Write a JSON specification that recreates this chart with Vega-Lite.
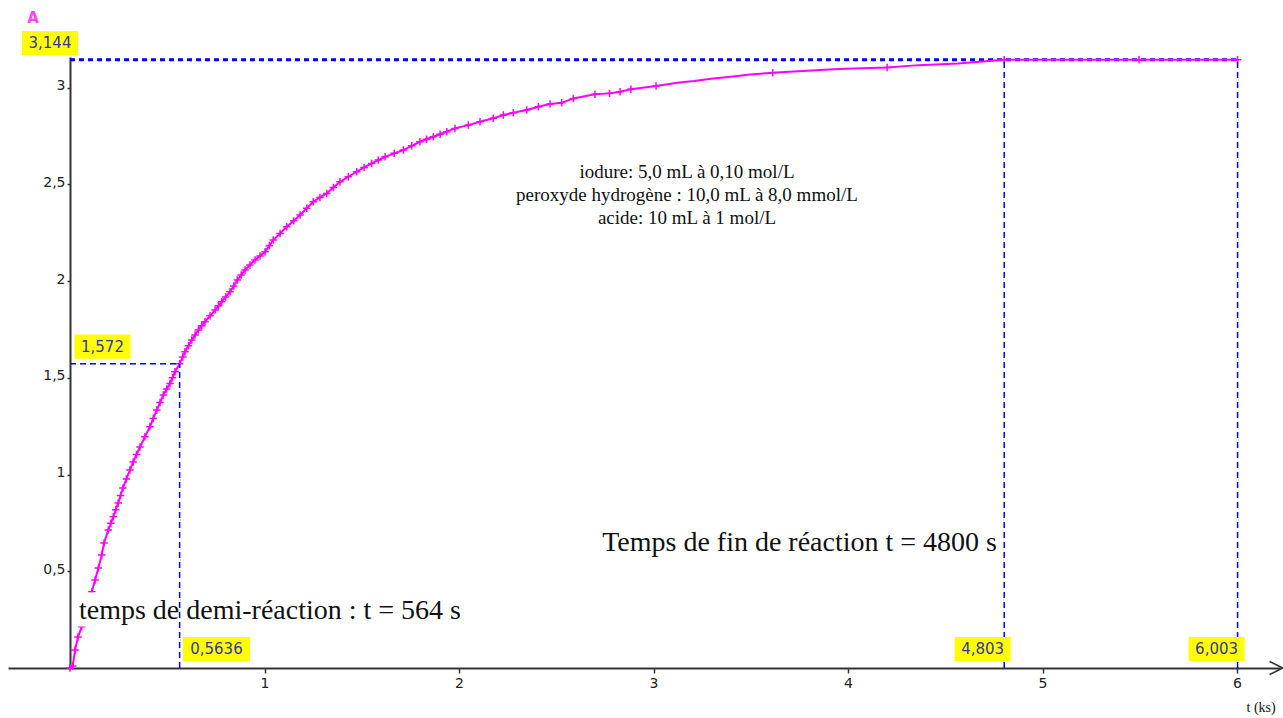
{
  "$schema": "https://vega.github.io/schema/vega-lite/v6.json",
  "width": 1272,
  "height": 611,
  "autosize": {"type": "none"},
  "padding": {"left": 8, "top": 57, "right": 3, "bottom": 50},
  "background": "white",
  "config": {"view": {"stroke": null}, "axis": {"grid": false}},
  "datasets": {
    "courbe": [
      {"t":0,"a":0,"m":1},{"t":0.014,"a":0.01,"m":1},{"t":0.026,"a":0.093,"m":1},{"t":0.041,"a":0.16,"m":1},
      {"t":0.06,"a":0.213,"m":1},{"t":0.082,"a":0.305,"m":1},{"t":0.097,"a":0.35,"m":1},{"t":0.112,"a":0.394,"m":1},
      {"t":0.129,"a":0.455,"m":1},{"t":0.146,"a":0.517,"m":1},{"t":0.163,"a":0.584,"m":1},{"t":0.175,"a":0.646,"m":1},
      {"t":0.197,"a":0.713,"m":1},{"t":0.21,"a":0.748,"m":1},{"t":0.223,"a":0.782,"m":1},{"t":0.235,"a":0.818,"m":1},
      {"t":0.248,"a":0.853,"m":1},{"t":0.26,"a":0.892,"m":1},{"t":0.272,"a":0.93,"m":1},{"t":0.29,"a":0.977,"m":1},
      {"t":0.308,"a":1.023,"m":1},{"t":0.325,"a":1.065,"m":1},{"t":0.342,"a":1.104,"m":1},{"t":0.36,"a":1.142,"m":1},
      {"t":0.385,"a":1.195,"m":1},{"t":0.411,"a":1.247,"m":1},{"t":0.428,"a":1.29,"m":1},{"t":0.446,"a":1.333,"m":1},
      {"t":0.463,"a":1.372,"m":1},{"t":0.48,"a":1.411,"m":1},{"t":0.497,"a":1.442,"m":1},{"t":0.514,"a":1.471,"m":1},
      {"t":0.527,"a":1.5,"m":1},{"t":0.54,"a":1.531,"m":1},{"t":0.5636,"a":1.572,"m":1},{"t":0.58,"a":1.608,"m":1},
      {"t":0.591,"a":1.635,"m":1},{"t":0.609,"a":1.665,"m":1},{"t":0.626,"a":1.695,"m":1},{"t":0.643,"a":1.721,"m":1},
      {"t":0.66,"a":1.747,"m":1},{"t":0.677,"a":1.769,"m":1},{"t":0.694,"a":1.79,"m":1},{"t":0.72,"a":1.82,"m":1},
      {"t":0.746,"a":1.85,"m":1},{"t":0.763,"a":1.872,"m":1},{"t":0.78,"a":1.893,"m":1},{"t":0.8,"a":1.918,"m":1},
      {"t":0.823,"a":1.945,"m":1},{"t":0.842,"a":1.975,"m":1},{"t":0.86,"a":2.005,"m":1},{"t":0.88,"a":2.031,"m":1},
      {"t":0.9,"a":2.057,"m":1},{"t":0.925,"a":2.083,"m":1},{"t":0.951,"a":2.109,"m":1},{"t":0.977,"a":2.13,"m":1},
      {"t":1.003,"a":2.151,"m":1},{"t":1.025,"a":2.183,"m":1},{"t":1.045,"a":2.212,"m":1},{"t":1.08,"a":2.246,"m":1},
      {"t":1.114,"a":2.281,"m":1},{"t":1.15,"a":2.311,"m":1},{"t":1.183,"a":2.341,"m":1},{"t":1.217,"a":2.376,"m":1},
      {"t":1.251,"a":2.41,"m":1},{"t":1.285,"a":2.432,"m":1},{"t":1.32,"a":2.453,"m":1},{"t":1.354,"a":2.483,"m":1},
      {"t":1.388,"a":2.513,"m":1},{"t":1.431,"a":2.539,"m":1},{"t":1.474,"a":2.565,"m":1},{"t":1.512,"a":2.587,"m":1},
      {"t":1.551,"a":2.608,"m":1},{"t":1.585,"a":2.625,"m":1},{"t":1.62,"a":2.642,"m":1},{"t":1.667,"a":2.66,"m":1},
      {"t":1.714,"a":2.677,"m":1},{"t":1.757,"a":2.699,"m":1},{"t":1.799,"a":2.72,"m":1},{"t":1.833,"a":2.733,"m":1},
      {"t":1.868,"a":2.746,"m":1},{"t":1.903,"a":2.759,"m":1},{"t":1.937,"a":2.772,"m":1},{"t":1.979,"a":2.789,"m":1},
      {"t":2.048,"a":2.806,"m":1},{"t":2.108,"a":2.823,"m":1},{"t":2.176,"a":2.841,"m":1},{"t":2.228,"a":2.858,"m":1},
      {"t":2.279,"a":2.87,"m":1},{"t":2.348,"a":2.884,"m":1},{"t":2.408,"a":2.901,"m":1},{"t":2.468,"a":2.915,"m":1},
      {"t":2.528,"a":2.921,"m":1},{"t":2.588,"a":2.944,"m":1},{"t":2.699,"a":2.965,"m":1},{"t":2.774,"a":2.97,"m":1},
      {"t":2.828,"a":2.978,"m":1},{"t":2.884,"a":2.991,"m":1},{"t":3.013,"a":3.008,"m":1},{"t":3.123,"a":3.025,"m":0},
      {"t":3.208,"a":3.034,"m":0},{"t":3.296,"a":3.046,"m":0},{"t":3.397,"a":3.056,"m":0},{"t":3.496,"a":3.068,"m":0},
      {"t":3.613,"a":3.076,"m":1},{"t":3.743,"a":3.084,"m":0},{"t":3.954,"a":3.096,"m":0},{"t":4.201,"a":3.104,"m":1},
      {"t":4.365,"a":3.116,"m":0},{"t":4.566,"a":3.125,"m":0},{"t":4.803,"a":3.144,"m":1},{"t":5.496,"a":3.144,"m":1},
      {"t":6.003,"a":3.144,"m":1}
    ],
    "niveau": [{"t":0,"t2":6.003,"a":3.144,"a2":3.144}],
    "reperes": [
      {"t":0,"t2":0.5636,"a":1.572,"a2":1.572},
      {"t":0.5636,"t2":0.5636,"a":0,"a2":1.572},
      {"t":4.803,"t2":4.803,"a":0,"a2":3.144},
      {"t":6.003,"t2":6.003,"a":0,"a2":3.144}
    ],
    "cache": [{"t":0.035,"t2":2.06,"a":0.215,"a2":0.39}],
    "etiquettes": [
      {"t":-0.103,"a":3.23,"label":"3,144"},
      {"t":0.167,"a":1.661,"label":"1,572"},
      {"t":0.753,"a":0.098,"label":"0,5636"},
      {"t":4.692,"a":0.098,"label":"4,803"},
      {"t":5.895,"a":0.098,"label":"6,003"}
    ],
    "info": [{"t":3.172,"a":2.566,"txt":"iodure: 5,0 mL à 0,10 mol/L\nperoxyde hydrogène : 10,0 mL à 8,0 mmol/L\nacide: 10 mL à 1 mol/L"}],
    "fin": [{"t":4.766,"a":0.646,"txt":"Temps de fin de réaction t = 4800 s"}],
    "demi": [{"t":0.046,"a":0.295,"txt":"temps de demi-réaction : t = 564 s"}],
    "titreA": [{"t":-0.19,"a":3.36,"txt":"A"}],
    "titreT": [{"t":6.124,"a":-0.207,"txt":"t (ks)"}],
    "fleche": [{"t":6.201,"a":0}]
  },
  "encoding": {
    "x": {
      "field": "t", "type": "quantitative",
      "scale": {"domain": [-0.3188, 6.221], "nice": false, "zero": false},
      "axis": {
        "values": [1,2,3,4,5,6], "title": null, "grid": false,
        "domainColor": "#333333", "domainWidth": 2,
        "tickColor": "#333333", "tickSize": 5, "tickWidth": 1.5,
        "labelFont": "DejaVu Sans", "labelFontSize": 14, "labelColor": "#222222",
        "labelPadding": 3, "labelFlush": false, "labelOverlap": false
      }
    },
    "y": {
      "field": "a", "type": "quantitative",
      "scale": {"domain": [0, 3.158], "nice": false, "zero": false},
      "axis": {
        "values": [0.5,1,1.5,2,2.5,3], "title": null, "grid": false, "offset": -62,
        "labelExpr": "replace(format(datum.value, '~g'), '.', ',')",
        "domainColor": "#333333", "domainWidth": 2,
        "tickColor": "#333333", "tickSize": 3, "tickWidth": 1.5,
        "labelFont": "DejaVu Sans", "labelFontSize": 14, "labelColor": "#222222",
        "labelPadding": 2, "labelBaseline": "alphabetic", "labelOffset": 2,
        "labelFlush": false, "labelOverlap": false
      }
    }
  },
  "layer": [
    {
      "data": {"name": "niveau"},
      "mark": {"type": "rule", "color": "#0000FF", "strokeWidth": 3, "strokeDash": [5, 4]},
      "encoding": {"x2": {"field": "t2"}, "y2": {"field": "a2"}}
    },
    {
      "data": {"name": "courbe"},
      "mark": {"type": "line", "color": "#FF00FF", "strokeWidth": 2},
      "encoding": {"order": {"field": "t", "type": "quantitative"}}
    },
    {
      "data": {"name": "courbe"},
      "transform": [{"filter": "datum.m == 1"}],
      "mark": {"type": "point", "shape": "M-1,0H1M0,-1V1", "filled": false, "stroke": "#FF00FF", "strokeWidth": 1.5, "size": 56, "opacity": 1},
      "encoding": {}
    },
    {
      "data": {"name": "cache"},
      "mark": {"type": "rect", "fill": "white"},
      "encoding": {"x2": {"field": "t2"}, "y2": {"field": "a2"}}
    },
    {
      "data": {"name": "reperes"},
      "mark": {"type": "rule", "color": "#0000FF", "strokeWidth": 1.5, "strokeDash": [6, 4]},
      "encoding": {"x2": {"field": "t2"}, "y2": {"field": "a2"}}
    },
    {
      "data": {"name": "etiquettes"},
      "mark": {"type": "point", "filled": true, "fill": "#FFFF00", "strokeWidth": 0, "opacity": 1},
      "encoding": {
        "shape": {"condition": {"test": "length(datum.label) > 5", "value": "M-1,-0.36H1V0.36H-1Z"}, "value": "M-1,-0.43H1V0.43H-1Z"},
        "size": {"condition": {"test": "length(datum.label) > 5", "value": 4489}, "value": 3136}
      }
    },
    {
      "data": {"name": "etiquettes"},
      "mark": {"type": "text", "font": "DejaVu Sans", "fontSize": 15, "color": "#3535A5", "align": "center", "baseline": "middle"},
      "encoding": {"text": {"field": "label"}}
    },
    {
      "data": {"name": "info"},
      "mark": {"type": "text", "font": "Liberation Serif", "fontSize": 19, "color": "#111111", "align": "center", "baseline": "middle", "lineBreak": "\n", "lineHeight": 23},
      "encoding": {"text": {"field": "txt"}}
    },
    {
      "data": {"name": "fin"},
      "mark": {"type": "text", "font": "Liberation Serif", "fontSize": 28, "color": "#111111", "align": "right", "baseline": "middle"},
      "encoding": {"text": {"field": "txt"}}
    },
    {
      "data": {"name": "demi"},
      "mark": {"type": "text", "font": "Liberation Serif", "fontSize": 28, "color": "#111111", "align": "left", "baseline": "middle"},
      "encoding": {"text": {"field": "txt"}}
    },
    {
      "data": {"name": "titreA"},
      "mark": {"type": "text", "font": "DejaVu Sans", "fontSize": 15, "fontWeight": "bold", "color": "#FF44FF", "align": "center", "baseline": "middle"},
      "encoding": {"text": {"field": "txt"}}
    },
    {
      "data": {"name": "titreT"},
      "mark": {"type": "text", "font": "Liberation Serif", "fontSize": 14, "color": "#111111", "align": "center", "baseline": "middle"},
      "encoding": {"text": {"field": "txt"}}
    },
    {
      "data": {"name": "fleche"},
      "mark": {"type": "point", "shape": "M-1,-1L1,0L-1,1", "filled": false, "stroke": "#333333", "strokeWidth": 1.5, "size": 169, "opacity": 1},
      "encoding": {}
    }
  ]
}
